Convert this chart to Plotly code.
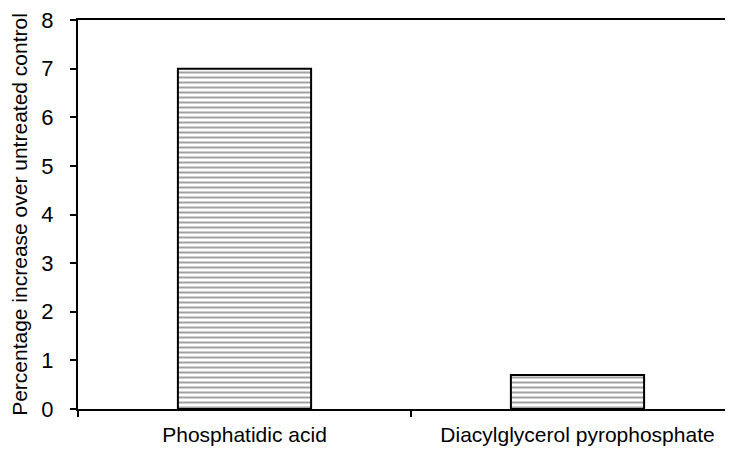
import plotly.graph_objects as go

categories = ["Phosphatidic acid", "Diacylglycerol pyrophosphate"]
values = [7.0, 0.7]
y_ticks = [0, 1, 2, 3, 4, 5, 6, 7, 8]

fig = go.Figure()

fig.add_trace(
    go.Bar(
        x=categories,
        y=values,
        width=0.4,
        marker=dict(
            color="white",
            line=dict(color="black", width=2),
            pattern=dict(shape="-", fgcolor="#444444", bgcolor="white", size=5, solidity=0.4),
        ),
    )
)

# page has an 8px body margin, so the figure is a bit smaller and margins are shifted
fig.update_layout(
    width=725,
    height=443,
    margin=dict(l=70, r=0, t=12, b=42),
    paper_bgcolor="white",
    plot_bgcolor="white",
    font=dict(family="Liberation Sans, Arial, sans-serif", size=21, color="black"),
    showlegend=False,
    xaxis=dict(
        type="category",
        range=[-0.5, 1.467],
        tickson="boundaries",
        ticks="outside",
        ticklen=6,
        tickwidth=2,
        tickcolor="black",
        showline=True,
        linecolor="black",
        linewidth=2,
        mirror=True,
        showgrid=False,
        automargin=False,
        ticklabeloverflow="allow",
        ticklabelstandoff=6,
        tickfont=dict(size=21),
    ),
    yaxis=dict(
        range=[0, 8],
        tickvals=y_ticks,
        ticks="outside",
        ticklen=6,
        tickwidth=2,
        tickcolor="black",
        showline=True,
        linecolor="black",
        linewidth=2,
        showgrid=False,
        zeroline=False,
        automargin=False,
        ticklabeloverflow="allow",
        ticklabelstandoff=12,
        tickfont=dict(size=22),
        title=dict(text="Percentage increase over untreated control", font=dict(size=21), standoff=14),
    ),
)

fig.write_html("out.html")
